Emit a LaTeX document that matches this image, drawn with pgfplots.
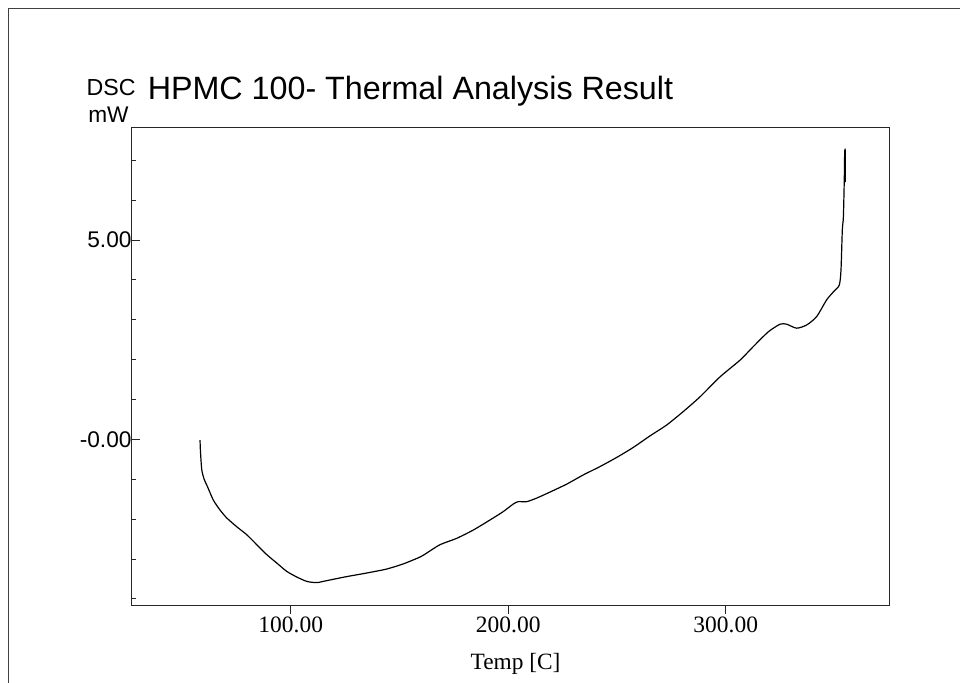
\documentclass[border=0pt]{standalone}
\usepackage{fontspec}
\setmainfont{Liberation Serif}
\newfontfamily\arial{Liberation Sans}
\usepackage{pgfplots}
\pgfplotsset{compat=1.18}
\pgfplotstableread{
T mW
58.3 -0.02
58.5 -0.30
59.1 -0.76
60.2 -1.00
61.7 -1.18
64.4 -1.52
67.5 -1.77
70.6 -1.97
75.2 -2.19
79.8 -2.39
84.4 -2.64
89.0 -2.89
93.6 -3.10
98.2 -3.31
102.8 -3.45
107.4 -3.56
112.0 -3.59
116.6 -3.54
125.7 -3.44
134.9 -3.35
144.1 -3.25
151.8 -3.12
159.4 -2.95
162.5 -2.85
168.6 -2.64
176.3 -2.48
184.0 -2.27
191.6 -2.02
197.7 -1.81
202.3 -1.62
204.6 -1.56
208.5 -1.56
213.1 -1.47
219.2 -1.32
226.9 -1.12
234.5 -0.89
242.2 -0.68
249.9 -0.45
257.5 -0.20
265.2 0.09
272.8 0.36
280.5 0.70
288.2 1.07
297.4 1.57
306.6 1.99
312.7 2.33
319.6 2.70
325.0 2.89
328.0 2.89
332.6 2.79
337.2 2.87
341.8 3.08
346.4 3.50
349.5 3.70
352.2 3.87
353.0 4.25
353.6 5.25
354.1 5.58
354.5 6.50
354.7 7.21
355.0 7.20
355.0 6.45
}\dsc
\begin{document}
\begin{tikzpicture}
\path[use as bounding box] (0,0) rectangle (720pt,511.5pt);
\begin{scope}[x=0.75pt,y=-0.75pt,yshift=511.5pt]
\draw[line width=0.75pt, color=black!75] (8.3,690) -- (8.3,9) -- (970,9);
\node[anchor=base west, inner sep=0pt, font=\arial\fontsize{17.4pt}{17.4pt}\selectfont] at (86.3,96) {DSC};
\node[anchor=base west, inner sep=0pt, font=\arial\fontsize{24.2pt}{24.2pt}\selectfont] at (147.5,99.3) {HPMC 100- Thermal Analysis Result};
\node[anchor=base west, inner sep=0pt, font=\arial\fontsize{17pt}{17pt}\selectfont] at (88,123) {mW};
\node[anchor=base, inner sep=0pt, font=\fontsize{17.5pt}{17.5pt}\selectfont] at (515.5,669) {Temp [C]};
\end{scope}
\begin{axis}[
  at={(98.8pt,57.2pt)}, anchor=south west,
  scale only axis, width=568pt, height=358.3pt,
  xmin=26.9, xmax=375.1, ymin=-4.17, ymax=7.81,
  axis line style={line width=0.75pt, black!85},
  xtick={100,200,300}, xticklabels={100.00,200.00,300.00},
  ytick={0,5}, yticklabels={-0.00,5.00},
  minor ytick={-4,-3,-2,-1,1,2,3,4,6,7},
  xtick pos=left, ytick pos=left,
  xtick align=outside, ytick align=inside,
  major tick length=6pt, minor tick length=3pt,
  every tick/.style={black!85, line width=0.75pt},
  xticklabel style={font=\fontsize{17.6pt}{17.6pt}\selectfont, inner sep=0pt, anchor=north, yshift=-2.5pt},
  yticklabel style={font=\arial\fontsize{17pt}{17pt}\selectfont, inner sep=0pt, anchor=east},
]
\addplot[black, line width=0.9pt, smooth, tension=0.4] table[x=T, y=mW] {\dsc};
\end{axis}
\end{tikzpicture}
\end{document}
